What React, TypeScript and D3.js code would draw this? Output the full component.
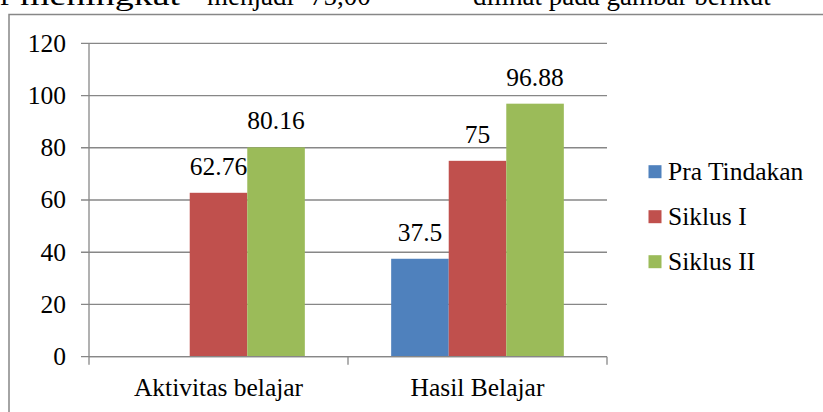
import React from 'react';
import { scaleLinear, scaleBand } from 'd3';

// chart data
const categories = ['Aktivitas belajar', 'Hasil Belajar'];
const seriesNames = ['Pra Tindakan', 'Siklus I', 'Siklus II'];
const praTindakan: (number | null)[] = [null, 37.5];
const siklusI: (number | null)[] = [62.76, 75];
const siklusII: (number | null)[] = [80.16, 96.88];
const yTicks = [0, 20, 40, 60, 80, 100, 120];

const seriesValues = [praTindakan, siklusI, siklusII];
const colors = ['#4F81BD', '#C0504D', '#9BBB59'];

const W = 823;
const H = 412;
const FONT = '"Liberation Serif", "Times New Roman", serif';
const FS = 25.5;
const GRID = '#878787';

export default function App() {
  // plot area bounds
  const plot = { left: 89, right: 607, top: 43.3, bottom: 356.7 };

  const y = scaleLinear().domain([0, 120]).range([plot.bottom, plot.top]);
  const x = scaleBand<string>().domain(categories).range([plot.left, plot.right]).padding(0);

  // excel style gap width 150%
  const bw = x.bandwidth();
  const barW = bw / (seriesNames.length + 1.5);
  const inner = scaleBand<string>()
    .domain(seriesNames)
    .range([barW * 0.75, bw - barW * 0.75])
    .padding(0);

  const fmt = (v: number) => String(v);

  return (
    <div style={{ position: 'absolute', left: 0, top: 0 }}>
      <svg width={W} height={H} style={{ display: 'block' }} fontFamily={FONT}>
        <rect width={W} height={H} fill="#fff" />

        {/* document text above the chart, cut off by the page edge */}
        <g fontSize={27} fill="#000">
          <text x={0} y={5}>P</text>
          <text x={20} y={5} textLength={160} lengthAdjust="spacingAndGlyphs">meningkat</text>
          <text x={207} y={5}>menjadi</text>
          <text x={310} y={5}>75,00</text>
          <text x={473} y={5}>dilihat pada gambar berikut</text>
        </g>

        {/* chart frame */}
        <rect x={9} y={14.5} width={W + 20} height={H + 20} fill="#fff" stroke={GRID} strokeWidth={1.5} />

        {/* gridlines + y ticks */}
        {yTicks.map(t => (
          <g key={t}>
            <line x1={plot.left - 8} x2={plot.right} y1={y(t)} y2={y(t)} stroke={GRID} strokeWidth={1.3} />
            <text
              x={66}
              y={y(t) + FS * 0.33}
              textAnchor="end"
              fontSize={FS}
              fill="#000">
              {t}
            </text>
          </g>
        ))}

        {/* y axis */}
        <line x1={plot.left} x2={plot.left} y1={plot.top} y2={plot.bottom} stroke={GRID} strokeWidth={1.3} />

        {/* bars */}
        {categories.map((c, ci) => (
          <g key={c} transform={`translate(${x(c)},0)`}>
            {seriesNames.map((s, si) => {
              const v = seriesValues[si][ci];
              if (v == null) return null;
              const bx = inner(s)!;
              return (
                <g key={s}>
                  <rect
                    x={bx}
                    y={y(v)}
                    width={inner.bandwidth()}
                    height={y(0) - y(v)}
                    fill={colors[si]} />
                  <text
                    x={bx + inner.bandwidth() / 2}
                    y={y(v) - 18}
                    textAnchor="middle"
                    fontSize={FS}
                    fill="#000">
                    {fmt(v)}
                  </text>
                </g>
              );
            })}
          </g>
        ))}

        {/* x axis with category ticks */}
        <line x1={plot.left} x2={plot.right} y1={plot.bottom} y2={plot.bottom} stroke={GRID} strokeWidth={1.3} />
        {[plot.left, ...categories.map(c => x(c)! + bw)].map((tx, i) => (
          <line key={i} x1={tx} x2={tx} y1={plot.bottom} y2={plot.bottom + 8} stroke={GRID} strokeWidth={1.3} />
        ))}
        {categories.map(c => (
          <text
            key={c}
            x={x(c)! + bw / 2}
            y={396}
            textAnchor="middle"
            fontSize={FS}
            fill="#000">
            {c}
          </text>
        ))}

        {/* legend */}
        {seriesNames.map((s, i) => {
          const cy = 171.7 + i * 45;
          return (
            <g key={s}>
              <rect x={648.5} y={cy - 6.5} width={13} height={13} fill={colors[i]} />
              <text x={668} y={cy + 7.8} fontSize={FS} fill="#000">{s}</text>
            </g>
          );
        })}
      </svg>
    </div>
  );
}
